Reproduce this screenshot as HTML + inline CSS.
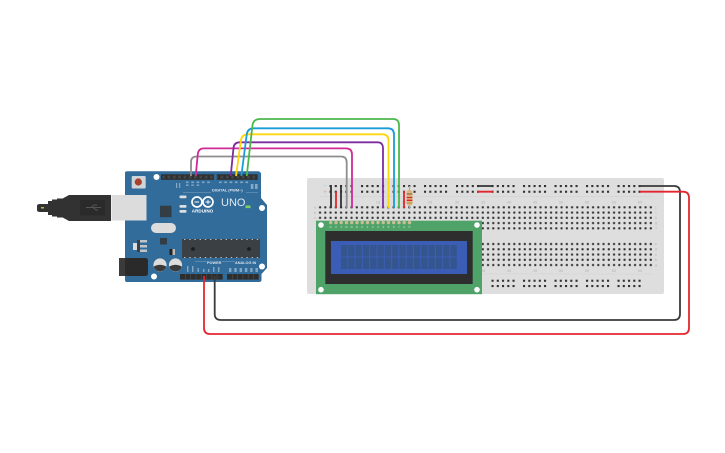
<!DOCTYPE html>
<html><head><meta charset="utf-8"><style>
html,body{margin:0;padding:0;background:#fff;width:725px;height:453px;overflow:hidden}
svg{display:block}
text{font-family:"Liberation Sans",sans-serif}
</style></head><body>
<svg width="725" height="453" viewBox="0 0 725 453" xmlns="http://www.w3.org/2000/svg">
<defs>
<filter id="soft" filterUnits="userSpaceOnUse" x="0" y="0" width="725" height="453"><feGaussianBlur stdDeviation="0.35"/></filter>
<pattern id="h" x="317.4" y="204.7" width="5.25" height="5.25" patternUnits="userSpaceOnUse"><rect x="1.6" y="1.6" width="2.1" height="2.1" rx=".6" fill="#333"/></pattern>
<g id="five" fill="#333"><rect x="-1" y="-1" width="2.1" height="2.1"/><rect x="4.25" y="-1" width="2.1" height="2.1"/><rect x="9.5" y="-1" width="2.1" height="2.1"/><rect x="14.75" y="-1" width="2.1" height="2.1"/><rect x="20" y="-1" width="2.1" height="2.1"/></g>
<g id="rail"><use href="#five" x="330.5"/><use href="#five" x="362"/><use href="#five" x="393.5"/><use href="#five" x="425"/><use href="#five" x="457"/><use href="#five" x="492.5"/><use href="#five" x="524"/><use href="#five" x="555.5"/><use href="#five" x="587"/><use href="#five" x="618.5"/></g>
<pattern id="pinh" x="161" y="174" width="5.3" height="6" patternUnits="userSpaceOnUse"><rect width="5.3" height="6" fill="#2f2f2f"/><rect x="1.2" y="1.6" width="2.9" height="2.9" fill="#444"/></pattern>
</defs>
<rect width="725" height="453" fill="#fff"/>
<g filter="url(#soft)">

<!-- breadboard -->
<rect x="307" y="178" width="357" height="116" rx="2" fill="#dedede"/>
<path d="M320 196.7H652M320 274H652" stroke="#d2d2d2" stroke-width=".6"/>
<use href="#rail" y="186"/><use href="#rail" y="191.7"/>
<use href="#rail" y="280.7"/><use href="#rail" y="286"/>
<rect x="317.4" y="204.7" width="336" height="26.2" fill="url(#h)"/>
<g transform="translate(0,36.7)"><rect x="317.4" y="204.7" width="336" height="26.2" fill="url(#h)"/></g>
<g font-size="4" fill="#b5b5b5" text-anchor="middle">
<text x="378" y="203.5">15</text><text x="404" y="203.5">20</text><text x="430" y="203.5">25</text><text x="457" y="203.5">30</text><text x="483" y="203.5">35</text><text x="509" y="203.5">40</text><text x="535" y="203.5">45</text><text x="561" y="203.5">50</text><text x="587" y="203.5">55</text><text x="614" y="203.5">60</text><text x="640" y="203.5">65</text>
<text x="483" y="272">35</text><text x="509" y="272">40</text><text x="535" y="272">45</text><text x="561" y="272">50</text><text x="587" y="272">55</text><text x="614" y="272">60</text><text x="640" y="272">65</text>
<text x="315" y="208.5">a</text><text x="315" y="214">b</text><text x="315" y="219">c</text>
<text x="656" y="208.5">j</text><text x="656" y="214">i</text><text x="656" y="219">h</text><text x="656" y="224">g</text><text x="656" y="229.5">f</text>
<text x="656" y="245">e</text><text x="656" y="250.5">d</text><text x="656" y="256">c</text><text x="656" y="261">b</text><text x="656" y="266.5">a</text>
</g>
<text x="325" y="188" font-size="7" fill="#a9c5dc" text-anchor="middle">−</text>
<text x="325" y="194" font-size="7" fill="#e5a9a9" text-anchor="middle">+</text>

<!-- resistor -->
<path d="M409.5 186V208" stroke="#a9a9a9" stroke-width="1"/>
<rect x="406.6" y="190" width="5.8" height="15.5" rx="2.3" fill="#d8b77f"/>
<path d="M406.6 194H412.4" stroke="#8a5a2b" stroke-width="1"/>
<path d="M406.6 197.5H412.4M406.6 200.3H412.4" stroke="#d92a2a" stroke-width="1.3"/>
<path d="M406.6 203H412.4" stroke="#b8912f" stroke-width="1"/>

<!-- short wires -->
<g fill="none" stroke-width="1.8">
<path d="M331 185V208M341 185V208" stroke="#333"/>
<path d="M336 191.5V208M404 191V208" stroke="#e3262e"/>
<path d="M477 186H493.5" stroke="#333"/>
<path d="M477 191.7H493.5" stroke="#e3262e"/>
</g>

<!-- LCD -->
<rect x="316" y="220.7" width="166" height="73.5" fill="#4fa369"/>
<rect x="325.3" y="231" width="147.4" height="53" fill="#2f2f2f"/>
<rect x="331" y="241" width="136" height="33" fill="#3b5db5"/>
<g fill="#36548f">
<g id="row"><rect x="341" y="245" width="6.2" height="11.5"/><rect x="348.3" y="245" width="6.2" height="11.5"/><rect x="355.6" y="245" width="6.2" height="11.5"/><rect x="362.9" y="245" width="6.2" height="11.5"/><rect x="370.2" y="245" width="6.2" height="11.5"/><rect x="377.5" y="245" width="6.2" height="11.5"/><rect x="384.8" y="245" width="6.2" height="11.5"/><rect x="392.1" y="245" width="6.2" height="11.5"/><rect x="399.4" y="245" width="6.2" height="11.5"/><rect x="406.7" y="245" width="6.2" height="11.5"/><rect x="414" y="245" width="6.2" height="11.5"/><rect x="421.3" y="245" width="6.2" height="11.5"/><rect x="428.6" y="245" width="6.2" height="11.5"/><rect x="435.9" y="245" width="6.2" height="11.5"/><rect x="443.2" y="245" width="6.2" height="11.5"/><rect x="450.5" y="245" width="6.2" height="11.5"/></g>
<use href="#row" y="12.5"/>
</g>
<g fill="#fff"><circle cx="321" cy="225" r="2.8"/><circle cx="477" cy="225" r="2.8"/><circle cx="321" cy="289.7" r="2.8"/><circle cx="477" cy="289.7" r="2.8"/></g>
<g fill="#c9bd92">
<circle cx="330.7" cy="222.6" r="1.7"/><circle cx="336" cy="222.6" r="1.7"/><circle cx="341.2" cy="222.6" r="1.7"/><circle cx="346.5" cy="222.6" r="1.7"/><circle cx="351.7" cy="222.6" r="1.7"/><circle cx="357" cy="222.6" r="1.7"/><circle cx="362.2" cy="222.6" r="1.7"/><circle cx="367.5" cy="222.6" r="1.7"/><circle cx="372.7" cy="222.6" r="1.7"/><circle cx="378" cy="222.6" r="1.7"/><circle cx="383.2" cy="222.6" r="1.7"/><circle cx="388.5" cy="222.6" r="1.7"/><circle cx="393.7" cy="222.6" r="1.7"/><circle cx="399" cy="222.6" r="1.7"/><circle cx="404.2" cy="222.6" r="1.7"/><circle cx="409.5" cy="222.6" r="1.7"/>
</g>
<g font-size="3" fill="#cfe3d4" text-anchor="middle">
<text x="330.7" y="228">G</text><text x="336" y="228">V</text><text x="341.2" y="228">V</text><text x="346.5" y="228">R</text><text x="351.7" y="228">R</text><text x="357" y="228">E</text><text x="362.2" y="228">0</text><text x="367.5" y="228">1</text><text x="372.7" y="228">2</text><text x="378" y="228">3</text><text x="383.2" y="228">4</text><text x="388.5" y="228">5</text><text x="393.7" y="228">6</text><text x="399" y="228">7</text><text x="404.2" y="228">A</text><text x="409.5" y="228">K</text>
</g>

<!-- USB cable -->
<path d="M37 206Q37 204 40 204H48V201H52V199.5H57V198.5H62.7L69 195H111V221H69L62.7 217.5H57V216.5H52V215H48V212H40Q37 212 37 210Z" fill="#333"/>
<rect x="41" y="207" width="3" height="1.5" fill="#c9b23a"/>
<rect x="80" y="200" width="25" height="15.5" fill="#2a2a2a"/>
<path d="M86 207.5H101M91 207.5L94 205H97M93 207.5L96 210H98" stroke="#555" stroke-width="1" fill="none"/>

<!-- Arduino board -->
<path d="M127 171.3H259L261 173V198L267 205V268L261.5 274V280Q261.5 282 259 282H127Q125 282 125 280V173Q125 171.3 127 171.3Z" fill="#336c9b"/>
<rect x="111.5" y="195" width="35" height="25.5" fill="#dcdcdc"/>
<rect x="161" y="174.3" width="53" height="5.5" fill="url(#pinh)"/>
<rect x="216.7" y="174.3" width="41" height="5.5" fill="url(#pinh)"/>
<rect x="180" y="274" width="42.7" height="5.6" fill="#2f2f2f"/>
<rect x="227" y="274" width="31.7" height="5.6" fill="#2f2f2f"/>
<path d="M185.3 274V279.6M190.6 274V279.6M195.9 274V279.6M201.2 274V279.6M206.5 274V279.6M211.8 274V279.6M217.1 274V279.6M232.3 274V279.6M237.6 274V279.6M242.9 274V279.6M248.2 274V279.6M253.5 274V279.6" stroke="#4a4a4a" stroke-width=".7"/>
<rect x="131.7" y="176" width="14" height="12.5" rx="1" fill="#cfd4d8"/>
<circle cx="138.3" cy="182" r="3.6" fill="#a8412c"/>
<g fill="#fff"><circle cx="156.5" cy="177" r="3"/><circle cx="262" cy="208" r="3"/><circle cx="262" cy="266.5" r="3"/><circle cx="154" cy="276.5" r="3"/></g>
<rect x="160" y="205.7" width="11.5" height="11.5" fill="#333c45"/>
<rect x="151" y="223" width="25" height="10" rx="5" fill="#dcdcdc"/>
<rect x="133" y="243" width="7" height="7" fill="#dcdcdc"/><rect x="140" y="240" width="7" height="2.5" fill="#bfc5c9"/><rect x="140" y="245" width="7" height="2.5" fill="#bfc5c9"/><rect x="140" y="249.5" width="7" height="2.5" fill="#bfc5c9"/><rect x="137" y="240" width="3" height="12" fill="#3a3f44"/>
<rect x="160" y="238" width="7" height="6.5" fill="#333c45"/>
<rect x="169.5" y="249" width="3" height="6" fill="#222"/><rect x="172.5" y="249" width="2.5" height="6" fill="#bbb"/>
<rect x="119" y="258" width="10" height="18" fill="#3a3a3a"/>
<rect x="125" y="258" width="23" height="18" rx="2.5" fill="#2c2c2c"/>
<g>
<circle cx="160" cy="265" r="6.6" fill="#dcdcdc"/><path d="M153.6 266.5A6.6 6.6 0 0 0 166.4 266.5Q160 263 153.6 266.5Z" fill="#3a3a3a"/>
<circle cx="175.5" cy="265" r="6.6" fill="#dcdcdc"/><path d="M169.1 266.5A6.6 6.6 0 0 0 181.9 266.5Q175.5 263 169.1 266.5Z" fill="#3a3a3a"/>
</g>
<rect x="182" y="239" width="78" height="19" fill="#3a3f44"/>
<path d="M184 239.5H259M184 257.5H259" stroke="#b8c0c6" stroke-width="1" stroke-dasharray="1.4 3.8"/>
<circle cx="193" cy="249" r="1.9" fill="#1c1f22"/><circle cx="249" cy="249" r="1.9" fill="#1c1f22"/>
<!-- logo -->
<g fill="none" stroke="#fff" stroke-width="1.7"><circle cx="197" cy="202" r="5"/><circle cx="208" cy="202" r="5"/></g>
<path d="M194.5 202H199M205.5 202H210.5M208 199.8V204.2" stroke="#fff" stroke-width=".9"/>
<text x="202.5" y="212.5" font-size="4.6" font-weight="bold" fill="#fff" text-anchor="middle">ARDUINO</text>
<text x="221" y="206" font-size="11" fill="#dfe8f0">UNO</text>
<text x="212" y="191.5" font-size="3.9" font-weight="bold" fill="#d8e4ee">DIGITAL (PWM~)</text>
<text x="207" y="264" font-size="3.8" font-weight="bold" fill="#d8e4ee">POWER</text>
<text x="235" y="264" font-size="3.8" font-weight="bold" fill="#d8e4ee">ANALOG IN</text>
<path d="M183 192.3H211M246 192.3H258M195 261.5H207M222 261.5H235" stroke="#7fa5c5" stroke-width=".5"/>
<!-- small silk -->
<g fill="#bcd0e0" opacity=".6">
<rect x="176" y="183" width="1.2" height="5"/><rect x="179" y="183" width="1.2" height="5"/>
<rect x="186" y="181.5" width="2.6" height="1.6"/><rect x="191.3" y="181.5" width="2.6" height="1.6"/><rect x="196.6" y="181.5" width="2.6" height="1.6"/><rect x="201.9" y="181.5" width="2.6" height="1.6"/><rect x="207.2" y="181.5" width="2.6" height="1.6"/>
<rect x="219" y="181.5" width="2.6" height="1.6"/><rect x="224.3" y="181.5" width="2.6" height="1.6"/><rect x="229.6" y="181.5" width="2.6" height="1.6"/><rect x="234.9" y="181.5" width="2.6" height="1.6"/><rect x="240.2" y="181.5" width="2.6" height="1.6"/><rect x="245.5" y="181.5" width="2.6" height="1.6"/><rect x="250.8" y="184" width="2.6" height="5"/><rect x="255" y="184" width="2.6" height="5"/>
<rect x="186" y="184.5" width="2.6" height="1.4"/><rect x="191.3" y="184.5" width="2.6" height="1.4"/><rect x="196.6" y="184.5" width="2.6" height="1.4"/>
<rect x="187" y="266" width="1.4" height="6"/><rect x="192" y="266" width="1.4" height="6"/><rect x="197.5" y="268" width="1.4" height="4"/><rect x="203" y="269" width="1.4" height="3"/><rect x="208" y="269" width="1.4" height="3"/><rect x="213" y="267" width="1.4" height="5"/><rect x="218" y="267" width="1.4" height="5"/>
<rect x="229" y="268" width="2.4" height="4"/><rect x="234.3" y="268" width="2.4" height="4"/><rect x="239.6" y="268" width="2.4" height="4"/><rect x="244.9" y="268" width="2.4" height="4"/><rect x="250.2" y="268" width="2.4" height="4"/><rect x="255.5" y="268" width="2.4" height="4"/>
</g>
<g fill="#d9dfe3"><rect x="179.5" y="195.5" width="7" height="2.8" rx="1"/><rect x="179.5" y="205" width="7" height="2.8" rx="1"/><rect x="179.5" y="210" width="7" height="2.8" rx="1"/></g>
<rect x="245.5" y="205.5" width="5" height="2.6" fill="#7fd05f"/>

<!-- long wires -->
<g fill="none" stroke-width="1.8" stroke-linejoin="round">
<path d="M191 176V162Q191 156.5 197 156.5H341Q346.7 156.5 346.7 162.5V208" stroke="#8e8e8e"/>
<path d="M195.7 176L197.8 154Q198.5 148.4 204 148.4H346Q352 148.4 352 154.5V208" stroke="#d02a96"/>
<path d="M230.7 176L233.5 148Q234 142.3 240 142.3H377.5Q383 142.3 383 148V208" stroke="#7b2f9e"/>
<path d="M236 176L241 140Q242 134.3 248 134.3H382.5Q388.5 134.3 388.5 140.5V208" stroke="#ffd60a"/>
<path d="M241.3 176L246.8 134Q247.7 128.3 254 128.3H388Q394 128.3 394 134.5V208" stroke="#1a9bd7"/>
<path d="M246.7 176L252.5 125Q253.5 119 260 119H393Q399 119 399 125V208" stroke="#4cb84c"/>
<path d="M640 186H674Q680 186 680 192V314Q680 320 674 320H221Q214.7 320 214.7 314V276" stroke="#3a3a3a"/>
<path d="M640 191.7H683Q689 191.7 689 198V328Q689 334 683 334H210Q204 334 204 328V276" stroke="#e3262e"/>
</g>
</g>
</svg>
</body></html>
